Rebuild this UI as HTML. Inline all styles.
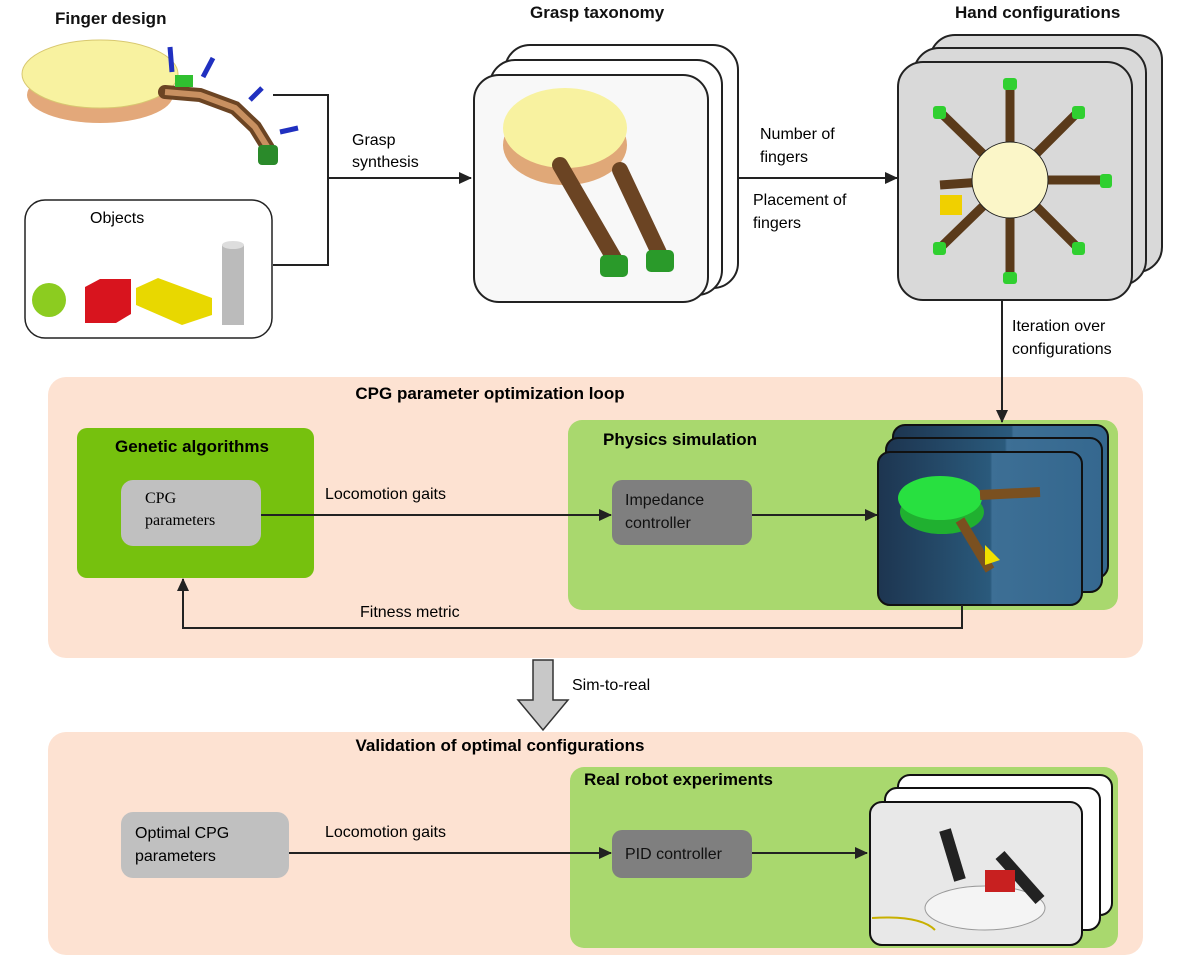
<!DOCTYPE html>
<html><head><meta charset="utf-8"><style>
html,body{margin:0;padding:0;background:#fff;}
svg{display:block;font-family:"Liberation Sans",Arial,sans-serif;}
</style></head><body>
<svg width="1184" height="964" viewBox="0 0 1184 964" xmlns="http://www.w3.org/2000/svg">
<defs>
<marker id="ah" markerWidth="13" markerHeight="12" refX="12" refY="6" orient="auto" markerUnits="userSpaceOnUse">
<path d="M0,0 L13,6 L0,12 Z" fill="#222"/></marker>
<linearGradient id="sim" x1="0" x2="1"><stop offset="0" stop-color="#1d3550"/><stop offset="0.55" stop-color="#2a5a7c"/><stop offset="0.56" stop-color="#3d6f95"/><stop offset="1" stop-color="#35688f"/></linearGradient>
</defs>
<!-- finger design image -->
<ellipse cx="100" cy="95" rx="73" ry="28" fill="#e3a87a"/>
<ellipse cx="100" cy="74" rx="78" ry="34" fill="#f8f2a0" stroke="#d8c870"/>
<g stroke="#6b4423" stroke-width="14" stroke-linecap="round" fill="none">
<path d="M165,92 L200,95 L235,108 L255,127 L268,148"/></g>
<g stroke="#c89060" stroke-width="6" fill="none"><path d="M165,92 L200,95 L235,108 L255,127 L268,148"/></g>
<rect x="258" y="145" width="20" height="20" rx="4" fill="#2a8a2a"/>
<rect x="175" y="75" width="18" height="12" fill="#30c030"/>
<g stroke="#2030c0" stroke-width="5"><line x1="170" y1="47" x2="172" y2="72"/><line x1="213" y1="58" x2="203" y2="77"/><line x1="262" y1="88" x2="250" y2="100"/><line x1="298" y1="128" x2="280" y2="132"/></g>
<!-- titles -->
<g font-weight="bold" font-size="17" fill="#111">
<text x="55" y="24">Finger design</text>
<text x="530" y="18">Grasp taxonomy</text>
<text x="955" y="18">Hand configurations</text>
</g>
<!-- objects box -->
<rect x="25" y="200" width="247" height="138" rx="20" fill="#fff" stroke="#222" stroke-width="1.5"/>
<text x="90" y="223" font-size="16">Objects</text>
<circle cx="49" cy="300" r="17" fill="#8ccc20"/>
<path d="M85,287 L100,279 L131,279 L131,314 L116,323 L85,323 Z" fill="#d8141e"/>
<path d="M136,288 L158,278 L212,298 L212,315 L182,325 L136,305 Z" fill="#e8d800"/>
<rect x="222" y="245" width="22" height="80" fill="#bbb"/><ellipse cx="233" cy="245" rx="11" ry="4" fill="#ddd"/>
<!-- grasp synthesis connector -->
<g stroke="#222" stroke-width="2" fill="none">
<polyline points="273,95 328,95 328,265 273,265"/>
<line x1="328" y1="178" x2="471" y2="178" marker-end="url(#ah)"/>
</g>
<text x="352" y="145" font-size="16">Grasp</text>
<text x="352" y="167" font-size="16">synthesis</text>
<!-- grasp cards -->
<g stroke="#222" stroke-width="2" fill="#fff">
<rect x="505" y="45" width="233" height="243" rx="25"/>
<rect x="490" y="60" width="232" height="235" rx="25"/>
<rect x="474" y="75" width="234" height="227" rx="25" fill="#f8f8f8"/>
</g>
<ellipse cx="565" cy="145" rx="62" ry="40" fill="#e0a878"/>
<ellipse cx="565" cy="128" rx="62" ry="40" fill="#f8f2a0"/>
<g stroke="#6b4423" stroke-width="16" stroke-linecap="round"><line x1="560" y1="165" x2="615" y2="260"/><line x1="620" y1="170" x2="660" y2="255"/></g>
<rect x="600" y="255" width="28" height="22" rx="5" fill="#2a9a2a"/><rect x="646" y="250" width="28" height="22" rx="5" fill="#2a9a2a"/>
<!-- arrow to hand config -->
<line x1="738" y1="178" x2="897" y2="178" stroke="#222" stroke-width="2" marker-end="url(#ah)"/>
<text x="760" y="139" font-size="16">Number of</text>
<text x="760" y="162" font-size="16">fingers</text>
<text x="753" y="205" font-size="16">Placement of</text>
<text x="753" y="228" font-size="16">fingers</text>
<!-- hand config cards -->
<g stroke="#222" stroke-width="2" fill="#d9d9d9">
<rect x="930" y="35" width="232" height="237" rx="25"/>
<rect x="914" y="48" width="232" height="237" rx="25"/>
<rect x="898" y="62" width="234" height="238" rx="25"/>
</g>
<g stroke="#5a3a1a" stroke-width="9">
<line x1="1010" y1="180" x2="1010" y2="85"/><line x1="1010" y1="180" x2="1010" y2="280"/>
<line x1="1010" y1="180" x2="1105" y2="180"/><line x1="1010" y1="180" x2="940" y2="185"/>
<line x1="1010" y1="180" x2="940" y2="112"/><line x1="1010" y1="180" x2="1078" y2="112"/>
<line x1="1010" y1="180" x2="1078" y2="248"/><line x1="1010" y1="180" x2="940" y2="248"/>
</g>
<g fill="#30d030"><rect x="1003" y="78" width="14" height="12" rx="3"/><rect x="1003" y="272" width="14" height="12" rx="3"/><rect x="1100" y="174" width="12" height="14" rx="3"/><rect x="933" y="106" width="13" height="13" rx="3"/><rect x="1072" y="106" width="13" height="13" rx="3"/><rect x="1072" y="242" width="13" height="13" rx="3"/><rect x="933" y="242" width="13" height="13" rx="3"/></g>
<circle cx="1010" cy="180" r="38" fill="#fbf6c8" stroke="#222"/>
<rect x="940" y="195" width="22" height="20" fill="#f0d000"/>
<text x="1012" y="331" font-size="16">Iteration over</text>
<text x="1012" y="354" font-size="16">configurations</text>
<!-- CPG loop -->
<rect x="48" y="377" width="1095" height="281" rx="18" fill="#fde2d2"/>
<text x="490" y="399" font-size="17" font-weight="bold" text-anchor="middle">CPG parameter optimization loop</text>
<rect x="77" y="428" width="237" height="150" rx="10" fill="#76c10e"/>
<text x="115" y="452" font-size="17" font-weight="bold">Genetic algorithms</text>
<rect x="121" y="480" width="140" height="66" rx="12" fill="#c0c0c0"/>
<text x="145" y="503" font-size="16" font-family="Liberation Serif,serif">CPG</text>
<text x="145" y="525" font-size="16" font-family="Liberation Serif,serif">parameters</text>
<rect x="568" y="420" width="550" height="190" rx="14" fill="#a9d86e"/>
<text x="603" y="445" font-size="17" font-weight="bold">Physics simulation</text>
<line x1="261" y1="515" x2="611" y2="515" stroke="#222" stroke-width="2" marker-end="url(#ah)"/>
<text x="325" y="499" font-size="16">Locomotion gaits</text>
<rect x="612" y="480" width="140" height="65" rx="10" fill="#7f7f7f"/>
<text x="625" y="505" font-size="16" fill="#111">Impedance</text>
<text x="625" y="528" font-size="16" fill="#111">controller</text>
<line x1="752" y1="515" x2="877" y2="515" stroke="#222" stroke-width="2" marker-end="url(#ah)"/>
<g stroke="#111" stroke-width="2" fill="url(#sim)">
<rect x="893" y="425" width="215" height="153" rx="12"/>
<rect x="886" y="438" width="216" height="154" rx="12"/>
<rect x="878" y="452" width="204" height="153" rx="12"/>
</g>
<ellipse cx="942" cy="512" rx="42" ry="22" fill="#20b030"/><ellipse cx="940" cy="498" rx="42" ry="22" fill="#28e040"/>
<g stroke="#7a5020" stroke-width="10"><line x1="960" y1="520" x2="990" y2="570"/><line x1="980" y1="495" x2="1040" y2="492"/></g>
<polygon points="985,545 1000,560 985,565" fill="#f0e000"/>
<!-- iteration arrow (on top) -->
<line x1="1002" y1="300" x2="1002" y2="422" stroke="#222" stroke-width="2" marker-end="url(#ah)"/>
<!-- fitness -->
<polyline points="962,605 962,628 183,628 183,579" stroke="#222" stroke-width="2" fill="none" marker-end="url(#ah)"/>
<text x="360" y="617" font-size="16">Fitness metric</text>
<!-- sim to real -->
<polygon points="533,660 553,660 553,700 568,700 543,730 518,700 533,700" fill="#c8c8c8" stroke="#333" stroke-width="1.5"/>
<text x="572" y="690" font-size="16">Sim-to-real</text>
<!-- validation -->
<rect x="48" y="732" width="1095" height="223" rx="18" fill="#fde2d2"/>
<text x="500" y="751" font-size="17" font-weight="bold" text-anchor="middle">Validation of optimal configurations</text>
<rect x="570" y="767" width="548" height="181" rx="14" fill="#a9d86e"/>
<text x="584" y="785" font-size="17" font-weight="bold">Real robot experiments</text>
<rect x="121" y="812" width="168" height="66" rx="12" fill="#c0c0c0"/>
<text x="135" y="838" font-size="16">Optimal CPG</text>
<text x="135" y="861" font-size="16">parameters</text>
<line x1="289" y1="853" x2="611" y2="853" stroke="#222" stroke-width="2" marker-end="url(#ah)"/>
<text x="325" y="837" font-size="16">Locomotion gaits</text>
<rect x="612" y="830" width="140" height="48" rx="10" fill="#7f7f7f"/>
<text x="625" y="859" font-size="16" fill="#111">PID controller</text>
<line x1="752" y1="853" x2="867" y2="853" stroke="#222" stroke-width="2" marker-end="url(#ah)"/>
<g stroke="#111" stroke-width="2" fill="#fff">
<rect x="898" y="775" width="214" height="140" rx="12"/>
<rect x="885" y="788" width="215" height="142" rx="12"/>
<rect x="870" y="802" width="212" height="143" rx="12" fill="#e8e8e8"/>
</g>
<ellipse cx="985" cy="908" rx="60" ry="22" fill="#f4f4f4" stroke="#999"/>
<g stroke="#222" stroke-width="12"><line x1="945" y1="830" x2="960" y2="880"/><line x1="1000" y1="855" x2="1040" y2="900"/></g>
<rect x="985" y="870" width="30" height="22" fill="#c82020"/>
<path d="M872,918 Q920,915 935,930" stroke="#c8b000" stroke-width="2" fill="none"/>
</svg>
</body></html>
